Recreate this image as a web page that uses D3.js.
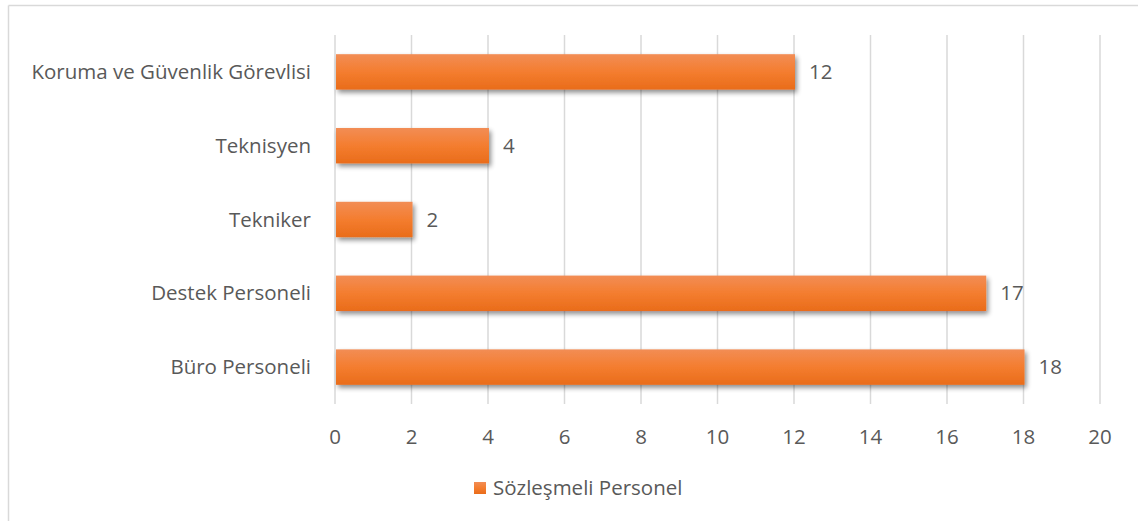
<!DOCTYPE html>
<html>
<head>
<meta charset="utf-8">
<script src="https://cdn.jsdelivr.net/npm/d3@7"></script>
<style>
  body { margin: 0; background: #fff; }
  svg text { font-family: "Open Sans", "Noto Sans", sans-serif; fill: #595959; }
</style>
</head>
<body>
<div id="chart"></div>
<script>
// chart data, top to bottom
var categories = ["Koruma ve Güvenlik Görevlisi", "Teknisyen", "Tekniker", "Destek Personeli", "Büro Personeli"];
var values = [12, 4, 2, 17, 18];
var xTicks = [0, 2, 4, 6, 8, 10, 12, 14, 16, 18, 20];
var seriesName = "Sözleşmeli Personel";

var width = 1138, height = 521;
var margin = {top: 35, left: 335};
var fontSize = "20.5px";

var svg = d3.select("#chart").append("svg")
    .attr("width", width)
    .attr("height", height);

// outer frame (only top and left show in the picture)
svg.append("line").attr("x1", 8.5).attr("x2", width).attr("y1", 5.5).attr("y2", 5.5)
    .attr("stroke", "#d9d9d9").attr("stroke-width", 1.5);
svg.append("line").attr("x1", 8.5).attr("x2", 8.5).attr("y1", 5.5).attr("y2", height)
    .attr("stroke", "#d9d9d9").attr("stroke-width", 1.5);

var defs = svg.append("defs");
var grad = defs.append("linearGradient").attr("id", "barGrad")
    .attr("x1", 0).attr("y1", 0).attr("x2", 0).attr("y2", 1);
grad.append("stop").attr("offset", "0%").attr("stop-color", "#f28d55");
grad.append("stop").attr("offset", "50%").attr("stop-color", "#f47d2f");
grad.append("stop").attr("offset", "100%").attr("stop-color", "#e96c1a");

var shadow = defs.append("filter").attr("id", "shadow")
    .attr("x", "-5%").attr("y", "-30%").attr("width", "115%").attr("height", "180%");
shadow.append("feGaussianBlur").attr("in", "SourceAlpha").attr("stdDeviation", 2.5);
shadow.append("feOffset").attr("dx", 2).attr("dy", 3).attr("result", "off");
shadow.append("feComponentTransfer").append("feFuncA").attr("type", "linear").attr("slope", 0.45);
var merge = shadow.append("feMerge");
merge.append("feMergeNode");
merge.append("feMergeNode").attr("in", "SourceGraphic");

var xScale = d3.scaleLinear().domain([0, 20]).range([0, 765]);
var yScale = d3.scaleBand().domain(categories).range([0, 369]).paddingInner(0.52).paddingOuter(0.26);

var g = svg.append("g").attr("transform", "translate(" + margin.left + "," + margin.top + ")");

// vertical gridlines
g.selectAll(".grid").data(xTicks).enter().append("line")
    .attr("class", "grid")
    .attr("x1", function(d) { return xScale(d); })
    .attr("x2", function(d) { return xScale(d); })
    .attr("y1", 0).attr("y2", 369)
    .attr("stroke", "#d9d9d9").attr("stroke-width", 1.5);

// bars
g.selectAll(".bar").data(values).enter().append("rect")
    .attr("class", "bar")
    .attr("x", xScale(0) + 1)
    .attr("y", function(d, i) { return yScale(categories[i]); })
    .attr("width", function(d) { return xScale(d) - xScale(0); })
    .attr("height", yScale.bandwidth())
    .attr("fill", "url(#barGrad)")
    .attr("filter", "url(#shadow)");

// value labels
g.selectAll(".val").data(values).enter().append("text")
    .attr("class", "val")
    .attr("x", function(d) { return xScale(d) + 15; })
    .attr("y", function(d, i) { return yScale(categories[i]) + yScale.bandwidth() / 2; })
    .attr("dy", "0.35em")
    .style("font-size", fontSize)
    .text(function(d) { return d; });

// category labels
g.selectAll(".cat").data(categories).enter().append("text")
    .attr("class", "cat")
    .attr("x", -24)
    .attr("y", function(d) { return yScale(d) + yScale.bandwidth() / 2; })
    .attr("dy", "0.35em")
    .attr("text-anchor", "end")
    .style("font-size", fontSize)
    .text(function(d) { return d; });

// x tick labels
g.selectAll(".tick-label").data(xTicks).enter().append("text")
    .attr("class", "tick-label")
    .attr("x", function(d) { return xScale(d); })
    .attr("y", 402)
    .attr("dy", "0.35em")
    .attr("text-anchor", "middle")
    .style("font-size", fontSize)
    .text(function(d) { return d; });

// legend
var legend = svg.append("g").attr("transform", "translate(474,482)");
legend.append("rect").attr("width", 12).attr("height", 12).attr("fill", "url(#barGrad)");
legend.append("text").attr("x", 19).attr("y", 6).attr("dy", "0.35em")
    .style("font-size", fontSize).text(seriesName);
</script>
</body>
</html>
